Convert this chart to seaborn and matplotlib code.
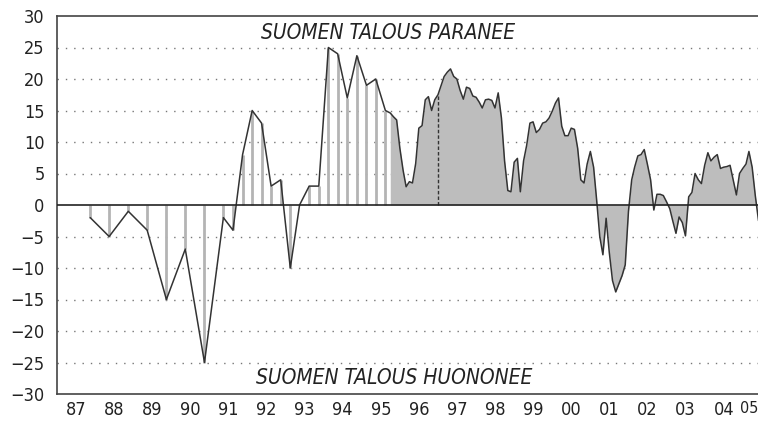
import matplotlib
matplotlib.use("Agg")
import numpy as np
import pandas as pd
import seaborn as sns
import matplotlib.pyplot as plt

# semi-annual survey rounds (1987-1991)
semi_dates = ["1987-11-15", "1988-05-15", "1988-11-15", "1989-05-15",
              "1989-11-15", "1990-05-15", "1990-11-15", "1991-05-15"]
semi_vals = [-2, -5, -1, -4, -15, -7, -25, -2]

# quarterly rounds (1991-1995)
quarter_start = "1991-08-15"
quarter_vals = [-4, 8, 15, 13, 3, 4, -10, 0, 3, 3, 25, 24, 17, 23.7, 19, 20, 15]

# monthly rounds (10/1995 ->)
month_start = "1995-10-01"
month_vals = [14.6, 14, 13.5, 9, 5.5, 2.9, 3.7, 3.5, 6.6, 12.2,
              12.6, 16.7, 17.2, 15, 16.7, 17.5, 19, 20.4, 21.1, 21.6,
              20.4, 20, 18.2, 16.8, 18.7, 18.5, 17.3, 17.1, 16.3, 15.4,
              16.7, 16.8, 16.6, 15.4, 17.8, 13.8, 7, 2.3, 2.1, 6.8,
              7.4, 2.1, 7, 9.5, 13, 13.2, 11.5, 12, 13, 13.2,
              13.8, 14.9, 16.2, 17, 12.5, 11, 11, 12.2, 12, 9,
              4, 3.5, 6.5, 8.5, 6, 1, -5, -7.9, -2.1, -7.5,
              -12, -13.8, -12.5, -11.2, -9.5, -1, 4, 6, 7.8, 8,
              8.8, 6.5, 4, -0.8, 1.7, 1.7, 1.5, 0.5, -0.6, -2.5,
              -4.5, -1.9, -2.8, -4.9, 1.3, 2, 5, 4, 3.4, 6.3,
              8.3, 7, 7.6, 8, 5.8, 6, 6.1, 6.3, 4, 1.6,
              5, 5.8, 6.5, 8.5, 6, 1.5, -2.5]

years = list(range(1987, 2006))
year_labels = [f"{y % 100:02d}" for y in years]
text_up = "SUOMEN TALOUS PARANEE"
text_down = "SUOMEN TALOUS HUONONEE"


def to_year(dates):
    d = pd.DatetimeIndex(pd.to_datetime(dates))
    return np.asarray(d.year + (d.dayofyear - 1) / np.where(d.is_leap_year, 366, 365))


semi_t = to_year(semi_dates)
quarter_t = to_year(pd.date_range(quarter_start[:8] + "01", periods=len(quarter_vals), freq="3MS")
                    + pd.Timedelta(days=14))
month_idx = pd.date_range(month_start, periods=len(month_vals), freq="MS")
month_t = to_year(month_idx)

df = pd.DataFrame({
    "t": np.concatenate([semi_t, quarter_t, month_t]),
    "v": semi_vals + quarter_vals + month_vals,
})

sns.set_style("white")
plt.rcParams["font.family"] = ["DejaVu Sans"]
plt.rcParams["font.stretch"] = "condensed"

fig = plt.figure(figsize=(7.58, 4.24), dpi=100)
ax = fig.add_axes([57 / 758, 30 / 424, 701 / 758, 378 / 424])

# vertical hatch for the older survey rounds
old_t = np.concatenate([semi_t, quarter_t])
old_v = semi_vals + quarter_vals
ax.vlines(old_t, 0, old_v, color="#b4b4b4", lw=2, zorder=1)

# grey area for the monthly series
ax.fill_between(month_t, 0, month_vals, color="#bdbdbd", lw=0, zorder=1)

# dashed marker at start of 1997
jan97 = list(month_idx).index(pd.Timestamp("1997-01-01"))
ax.vlines(month_t[jan97], 0, month_vals[jan97], color="#333333", lw=1,
          linestyles=(0, (2.5, 1.5)), zorder=2)

sns.lineplot(data=df, x="t", y="v", estimator=None, sort=False,
             color="#333333", linewidth=1.1, ax=ax, zorder=3)

for y in range(-25, 30, 5):
    if y != 0:
        ax.axhline(y, color="#777777", lw=1, ls=(0, (1, 5)), zorder=0)
ax.axhline(0, color="#222222", lw=1.2, zorder=4)

ax.set_xlim(1987, 1987 + 701 / 38.1)
ax.set_ylim(-30, 30)
ax.set_xlabel("")
ax.set_ylabel("")

ax.set_yticks(range(-30, 31, 5))
ax.set_yticklabels([str(v).replace("-", "\u2212") for v in range(-30, 31, 5)])
ax.tick_params(axis="y", direction="out", length=7, width=1, color="#444444",
               labelsize=13, pad=2, labelcolor="#222222")

ax.set_xticks(years, minor=True)
label_pos = [y + 0.5 for y in years[:-1]] + [years[-1] + 0.4]
ax.set_xticks(label_pos)
ax.set_xticklabels(year_labels)
ax.tick_params(axis="x", which="major", length=0, pad=5, labelsize=13, labelcolor="#222222")
ax.tick_params(axis="x", which="minor", direction="out", length=22, width=1, color="#444444")
last = ax.get_xticklabels()[-1]
last.set_horizontalalignment("right")
last.set_fontsize(11.5)

for side in ["left", "top", "bottom"]:
    ax.spines[side].set_color("#444444")
    ax.spines[side].set_linewidth(1.2)
ax.spines["right"].set_visible(False)

ax.text(1995.69, 27.3, text_up, ha="center", va="center", style="italic",
        fontsize=15, color="#222222")
ax.text(1995.85, -27.5, text_down, ha="center", va="center", style="italic",
        fontsize=15, color="#222222")

fig.savefig("out.png", dpi=100)
